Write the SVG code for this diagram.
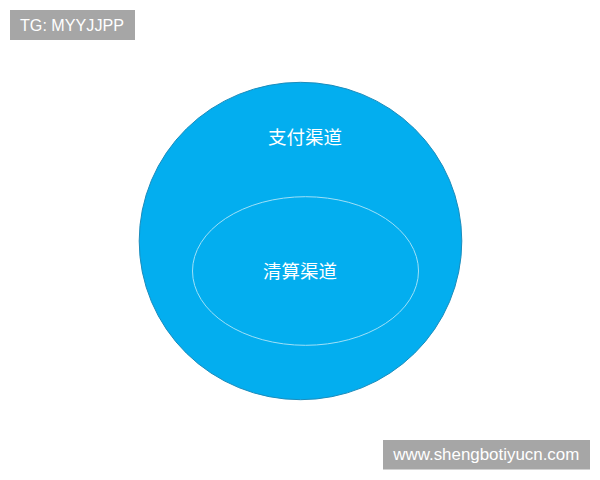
<svg xmlns="http://www.w3.org/2000/svg" width="600" height="480" viewBox="0 0 600 480">
<style>
.lbl{font-family:"Noto Sans CJK SC","Noto Sans",sans-serif;font-size:18.5px;fill:#ffffff;text-anchor:middle}
.wm{font-family:"Liberation Sans","DejaVu Sans",sans-serif;fill:#ffffff}
.wmbox{fill:#a6a6a6}
</style>
<rect width="600" height="480" fill="#ffffff"/>
<g id="watermark-top">
<rect class="wmbox" x="10" y="10" width="125" height="30"/>
<text class="wm" x="20" y="31" font-size="16.5" textLength="104" lengthAdjust="spacingAndGlyphs">TG: MYYJJPP</text>
</g>
<g id="payment-channel">
<ellipse cx="300.5" cy="241" rx="161.3" ry="158.7" fill="#03aeef" stroke="#1b8cbc" stroke-width="1"/>
<text class="lbl" x="305" y="144">支付渠道</text>
</g>
<g id="clearing-channel">
<ellipse cx="305.5" cy="271" rx="113" ry="74.3" fill="none" stroke="#9fe0f7" stroke-width="1"/>
<text class="lbl" x="300" y="278">清算渠道</text>
</g>
<g id="connectors"></g>
<g id="watermark-bottom">
<rect class="wmbox" x="383" y="440" width="207" height="29.5"/>
<text class="wm" x="393.3" y="460" font-size="16" textLength="186" lengthAdjust="spacingAndGlyphs">www.shengbotiyucn.com</text>
</g>
</svg>
